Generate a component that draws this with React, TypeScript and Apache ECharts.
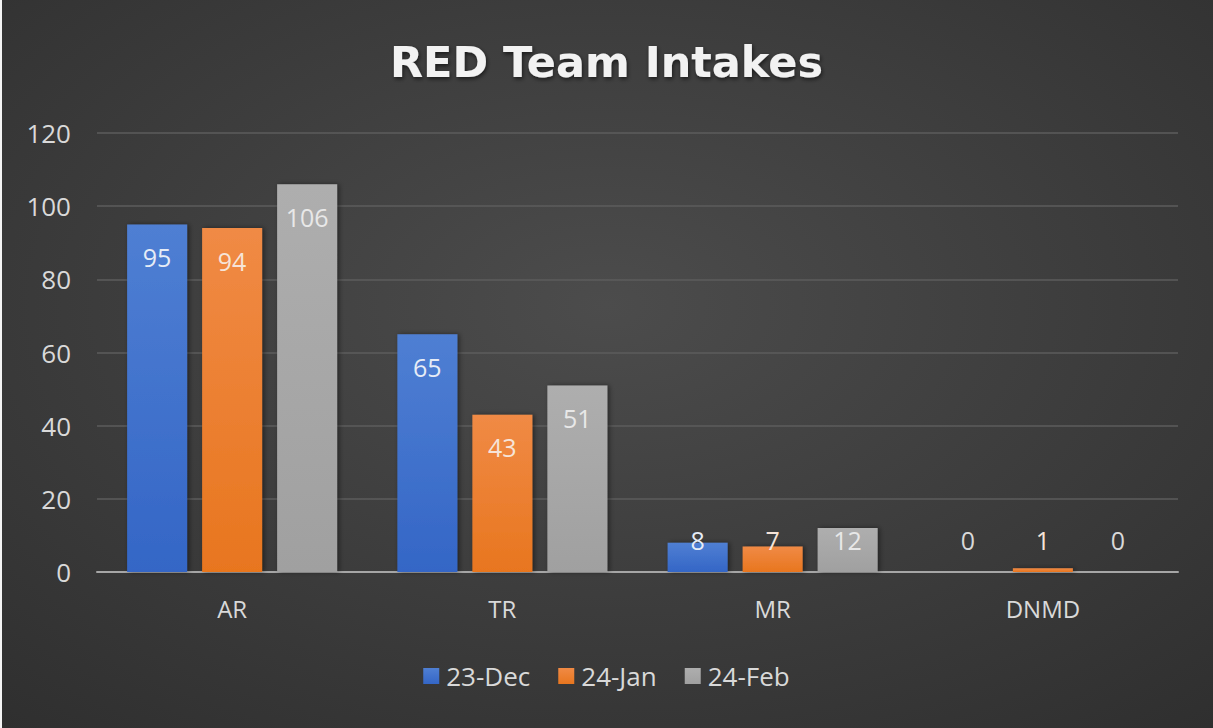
import React, { useEffect, useRef } from "react";
import * as echarts from "echarts";

const categories = ["AR", "TR", "MR", "DNMD"];
const seriesNames = ["23-Dec", "24-Jan", "24-Feb"];
const dec23 = [95, 65, 8, 0];
const jan24 = [94, 43, 7, 1];
const feb24 = [106, 51, 12, 0];
const yTicks = [0, 20, 40, 60, 80, 100, 120];

const FONT = "'Open Sans', 'Noto Sans', sans-serif";
const SMALL = 15;

function grad(top: string, bottom: string) {
  return new echarts.graphic.LinearGradient(0, 0, 0, 1, [
    { offset: 0, color: top },
    { offset: 1, color: bottom },
  ]);
}

function makeData(vals: number[], labelColor: string) {
  return vals.map((v) =>
    v < SMALL
      ? { value: v, label: { position: "insideBottom", distance: 20, color: v === 0 ? "#d9d9d9" : labelColor } }
      : { value: v }
  );
}

export default function App() {
  const ref = useRef<HTMLDivElement>(null);
  useEffect(() => {
    document.body.style.margin = "0";
    const chart = echarts.init(ref.current!, null, { renderer: "svg" });
    const labelBase = (color: string) => ({
      show: true,
      position: "insideTop",
      distance: 20,
      color,
      fontSize: 25,
      fontFamily: FONT,
    });
    const barCommon = {
      type: "bar",
      barWidth: 60,
      barGap: "25%",
      itemStyle: {
        shadowBlur: 5,
        shadowColor: "rgba(0,0,0,0.45)",
        shadowOffsetX: 2,
        shadowOffsetY: 0,
      },
    };
    chart.setOption({
      animation: false,
      backgroundColor: {
        type: "radial",
        x: 0.5,
        y: 0.42,
        r: 1.0,
        colorStops: [
          { offset: 0, color: "#4c4c4c" },
          { offset: 1, color: "#262626" },
        ],
      },
      title: {
        text: "RED Team Intakes",
        left: "center",
        top: 35,
        textStyle: {
          fontFamily: "'DejaVu Sans', sans-serif",
          fontWeight: "bold",
          fontSize: 43,
          color: "#f2f2f2",
          textShadowColor: "rgba(0,0,0,0.6)",
          textShadowBlur: 4,
          textShadowOffsetX: 1,
          textShadowOffsetY: 2,
        },
      },
      graphic: [
        { type: "rect", left: 0, top: 0, shape: { width: 2, height: 728 }, style: { fill: "#f4f4f4" } },
      ],
      legend: {
        data: seriesNames,
        bottom: 34,
        left: "center",
        icon: "rect",
        itemWidth: 16,
        itemHeight: 16,
        itemGap: 28,
        textStyle: { color: "#d9d9d9", fontSize: 26, fontFamily: FONT, padding: [0, 0, 0, 2] },
      },
      grid: { left: 97, right: 35, top: 133, bottom: 156, containLabel: false },
      xAxis: {
        type: "category",
        data: categories,
        axisLine: { lineStyle: { color: "#a6a6a6", width: 2 } },
        axisTick: { show: false },
        axisLabel: { color: "#d9d9d9", fontSize: 24, fontFamily: FONT, margin: 24 },
      },
      yAxis: {
        type: "value",
        min: yTicks[0],
        max: yTicks[yTicks.length - 1],
        interval: 20,
        axisLine: { show: false },
        axisTick: { show: false },
        splitLine: { lineStyle: { color: "#5c5c5c", width: 1.5 } },
        axisLabel: { color: "#d9d9d9", fontSize: 26, fontFamily: FONT, margin: 26 },
      },
      series: [
        {
          ...barCommon,
          name: seriesNames[0],
          data: makeData(dec23, "#e6ecf6"),
          itemStyle: { ...barCommon.itemStyle, color: grad("#4f7fd3", "#3466c6") },
          label: labelBase("#e6ecf6"),
        },
        {
          ...barCommon,
          name: seriesNames[1],
          data: makeData(jan24, "#f6e4d8"),
          itemStyle: { ...barCommon.itemStyle, color: grad("#f08a45", "#e8761f") },
          label: labelBase("#f6e4d8"),
        },
        {
          ...barCommon,
          name: seriesNames[2],
          data: makeData(feb24, "#e8e8e8"),
          itemStyle: { ...barCommon.itemStyle, color: grad("#aeaeae", "#a0a0a0") },
          label: labelBase("#e8e8e8"),
        },
      ],
    });
    return () => chart.dispose();
  }, []);
  return <div ref={ref} style={{ width: 1213, height: 728 }} />;
}
